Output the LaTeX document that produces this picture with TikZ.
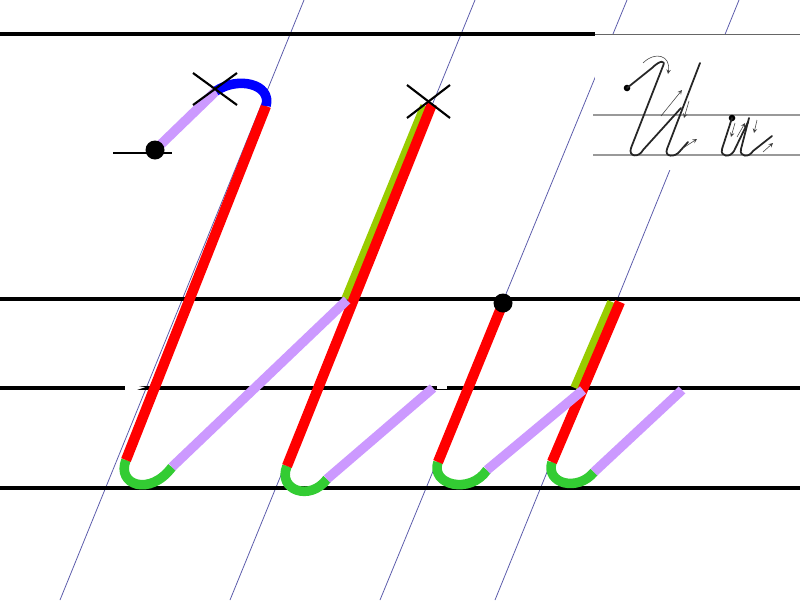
\documentclass[tikz,border=0pt]{standalone}
\usepackage{tikz}

\definecolor{penred}{RGB}{255,0,0}
\definecolor{penlilac}{RGB}{204,153,255}
\definecolor{pengreen}{RGB}{51,204,51}
\definecolor{penolive}{RGB}{153,204,0}
\definecolor{penblue}{RGB}{0,0,255}
\definecolor{slant}{RGB}{90,90,170}

\begin{document}
\begin{tikzpicture}[x=0.025cm, y=-0.025cm, >=stealth,
  rule/.style={line width=2.6pt, black},
  slantline/.style={line width=0.55pt, slant},
  pen/.style={line width=6.8pt},
  penthick/.style={line width=7.3pt},
  cross/.style={line width=1.5pt, black},
  ink/.style={line width=1.25pt, black!85, line cap=round, line join=round},
  hint/.style={->, line width=0.4pt, black!75}]

  \fill[white] (0,0) rectangle (800,600);
  \useasboundingbox (0,0) rectangle (800,600);

  % slant guide lines
  \draw[slantline] (304,0) -- (60,600);
  \draw[slantline] (475,0) -- (230,600);
  \draw[slantline] (627,0) -- (380,600);
  \draw[slantline] (739,0) -- (495,600);

  % ruling
  \draw[rule] (0,34) -- (595,34);
  \draw[rule] (0,299) -- (800,299);
  \draw[rule] (0,388) -- (800,388);
  \draw[rule] (0,488) -- (800,488);
  \fill[white] (125,385.5) -- (135,385.5) -- (145,387.2) -- (135,390.5) -- (125,390.5) -- cycle;
  \fill[white] (437,385.5) rectangle (447,388.6);

  % sample in the corner
  \fill[white] (595,35) rectangle (800,170);
  \draw[line width=0.6pt, black!60] (595,34) -- (800,34);
  \draw[line width=1.1pt, black!40] (593,115) -- (800,115);
  \draw[line width=1.1pt, black!40] (593,155) -- (800,155);

  \fill[black] (627,88) circle (3.3);
  \draw[ink] (627,88) -- (652,68) .. controls (660,60) and (666,60) .. (663,66)
    -- (631,148) .. controls (628,157) and (639,158) .. (643,150) -- (681,108);
  \draw[ink] (700,63) -- (667,149) .. controls (664,157) and (675,158) .. (680,151) -- (688,142);
  \fill[black] (732,118) circle (3.3);
  \draw[ink] (732,118) -- (722,149) .. controls (720,157) and (730,158) .. (734,151) -- (748,122);
  \draw[ink] (749,118) -- (741,149) .. controls (739,157) and (749,158) .. (753,151) -- (772,136);

  \draw[hint] (643,63) .. controls (655,51) and (671,55) .. (668,74);
  \draw[hint] (661,116) -- (682,90);
  \draw[hint] (689,101) -- (684,118);
  \draw[hint] (683,148) -- (697,139);
  \draw[hint] (735,123) -- (731,137);
  \draw[hint] (737,137) -- (745,123);
  \draw[hint] (757,120) -- (754,133);
  \draw[hint] (763,152) -- (773,143);

  % capital letter
  \coordinate (start1) at (155,150);
  \coordinate (x1) at (216,91);
  \coordinate (top1) at (266,106);
  \coordinate (low1) at (126,460);
  \coordinate (turn1) at (172,467);
  \coordinate (meet1) at (347,300);
  \coordinate (x2) at (428,101);
  \coordinate (top2) at (432,104);
  \coordinate (low2) at (287,466);
  \coordinate (turn2) at (327,479);
  \coordinate (end2) at (433,388);

  \draw[line width=1.5pt] (113,153) -- (172,153);
  \draw[pengreen, pen] (low1) .. controls (116,485) and (150,497) .. (turn1);
  \draw[pengreen, pen] (low2) .. controls (277,490) and (310,502) .. (turn2);
  \draw[penolive, pen] (425,106) -- (346,299);
  \draw[penred, penthick] (top1) -- (low1);
  \draw[penred, penthick] (top2) -- (low2);
  \draw[penlilac, pen] (start1) -- (x1);
  \draw[penlilac, pen] (turn1) -- (meet1);
  \draw[penlilac, pen] (turn2) -- (end2);
  \draw[penblue, pen] (x1) .. controls (238,76) and (272,84) .. (top1);
  \fill[black] (start1) circle (9.5);
  \draw[cross] (193,73) -- (237,105);
  \draw[cross] (193,105) -- (237,73);
  \draw[cross] (407,85) -- (450,118);
  \draw[cross] (407,118) -- (450,85);

  % small letter
  \coordinate (start3) at (503,303);
  \coordinate (low3) at (438,462);
  \coordinate (turn3) at (487,470);
  \coordinate (meet3) at (583,390);
  \coordinate (top4) at (620,302);
  \coordinate (low4) at (552,462);
  \coordinate (turn4) at (594,472);
  \coordinate (end4) at (682,390);

  \draw[pengreen, pen] (low3) .. controls (430,485) and (470,495) .. (turn3);
  \draw[pengreen, pen] (low4) .. controls (545,484) and (578,492) .. (turn4);
  \draw[penolive, pen] (575,388) -- (612,302);
  \draw[penred, penthick] (start3) -- (low3);
  \draw[penred, penthick] (top4) -- (low4);
  \draw[penlilac, pen] (turn3) -- (meet3);
  \draw[penlilac, pen] (turn4) -- (end4);
  \fill[black] (start3) circle (9.5);
\end{tikzpicture}
\end{document}
